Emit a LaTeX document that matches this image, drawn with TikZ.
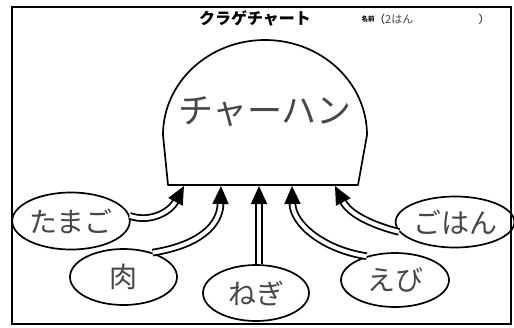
\documentclass[tikz,border=0pt]{standalone}
\usepackage{fontspec}
\newfontfamily\jp{Noto Sans CJK JP}
\usetikzlibrary{arrows.meta,shapes.geometric}
\begin{document}
\begin{tikzpicture}[x=1pt,y=-1pt,
  oval/.style={draw, line width=1.7pt, ellipse, inner sep=0pt, font=\jp\fontsize{28}{28}\selectfont, text=black!72},
  arr/.style={draw, line width=1.8pt, double=white, double distance=4pt, -{Triangle[length=18pt,width=16pt]}},
  hand/.style={text=black!72}]
\useasboundingbox (0,0) rectangle (514,327);
\fill[white] (0,0) rectangle (514,327);
% frame
\draw[line width=2pt] (12,7) rectangle (511,324);
% title
\node (title) at (255,18) {\jp\bfseries\fontsize{16}{16}\selectfont クラゲチャート};
\node[inner sep=0pt] (namae) at (368,19) {\jp\bfseries\fontsize{6.5}{6.5}\selectfont 名前};
\node[inner sep=0pt, anchor=west] (han) at (374,19) {\jp\fontsize{11}{11}\selectfont （\textcolor{black!72}{2はん}};
\node[inner sep=0pt] (paren) at (484,19) {\jp\fontsize{11}{11}\selectfont ）};
% dome
\draw[line width=1.7pt, line join=round] (168,185) -- (163,135)
  .. controls (163,82.5) and (208.7,40) .. (265,40)
  .. controls (321.3,40) and (367,82.5) .. (367,135)
  -- (358,185) -- cycle;
\node[hand] (dome) at (265,112) {\jp\fontsize{35}{35}\selectfont チャーハン};
% arrow tips on dome
\coordinate (t1) at (184,186);
\coordinate (t2) at (221,186);
\coordinate (t3) at (259,186);
\coordinate (t4) at (292,186);
\coordinate (t5) at (335,186);
% ingredient ovals
\node[oval, minimum width=108pt, minimum height=57pt] (tamago) at (71,221) {たまご};
\node[oval, minimum width=107pt, minimum height=56pt] (niku) at (123.5,277) {肉};
\node[oval, minimum width=106pt, minimum height=56pt] (negi) at (256,293) {ねぎ};
\node[oval, minimum width=108pt, minimum height=54pt] (ebi) at (395,280) {えび};
\node[oval, minimum width=104pt, minimum height=51pt] (gohan) at (455,222) {ごはん};
% arrows
\draw[arr] (tamago.5) .. controls (150,223) and (170,212) .. (t1);
\draw[arr] (niku.40) .. controls (200,245) and (220,225) .. (t2);
\draw[arr] (negi.north -| t3) -- (t3);
\draw[arr] (ebi.140) .. controls (325,250) and (293,225) .. (t4);
\draw[arr] (gohan.190) .. controls (375,226) and (350,215) .. (t5);
\end{tikzpicture}
\end{document}
